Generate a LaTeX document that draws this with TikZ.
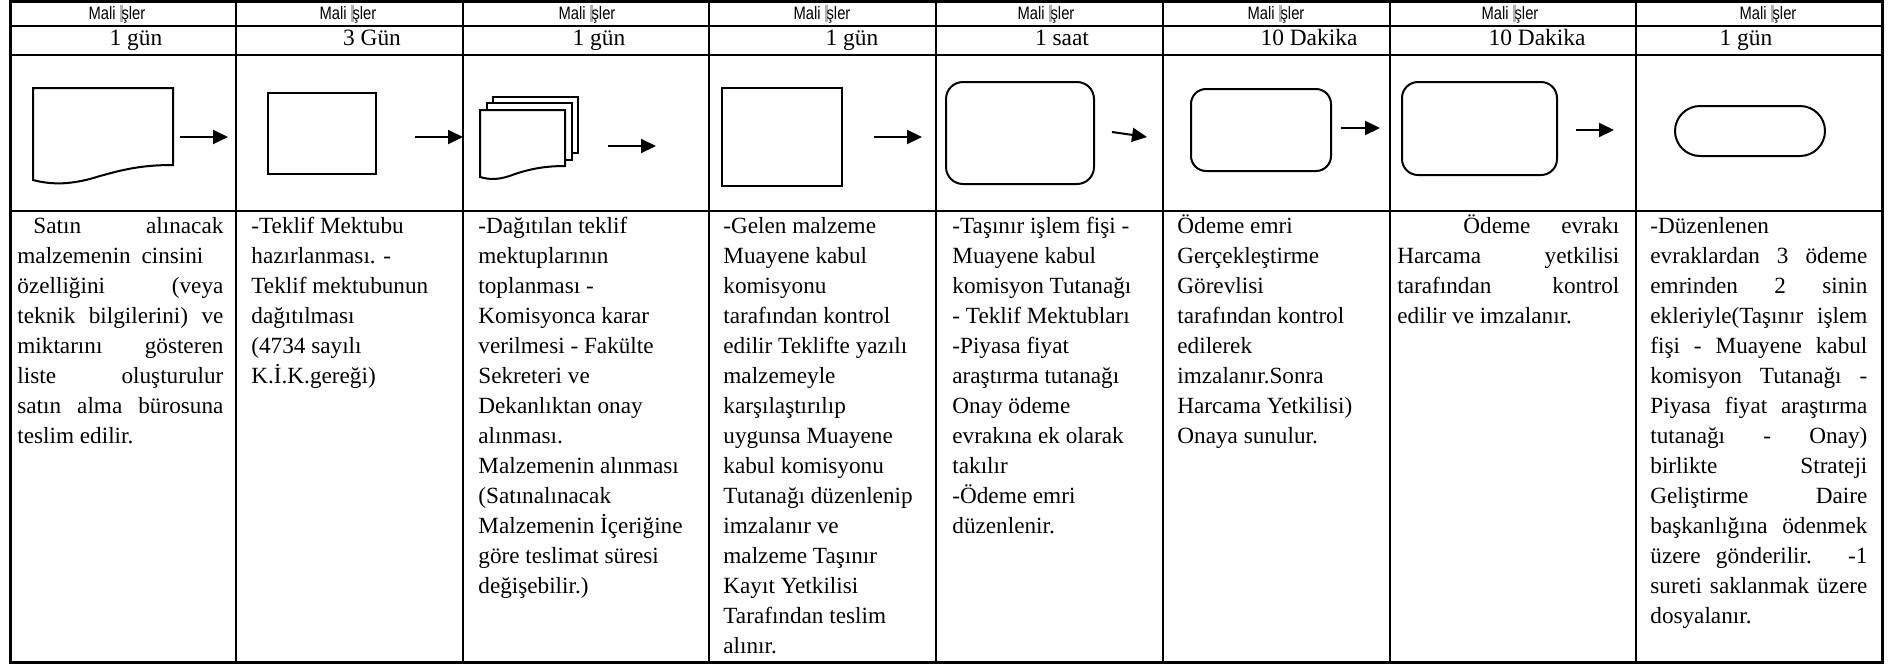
\documentclass[tikz,border=0pt]{standalone}
\usepackage{fontspec}
\setmainfont{Liberation Serif}
\newfontfamily\hdrfont[FakeStretch=0.82]{Liberation Sans}
\usetikzlibrary{arrows.meta}
\newcommand\jl[2]{{\spaceskip=0pt\xspaceskip=0pt\makebox[#1][s]{#2}}}
\newcommand\hdrtext{Mali {\color{black!30}\rule[-1.5pt]{1.4pt}{8.5pt}}\kern-0.5ptşler}
\begin{document}
\begin{tikzpicture}[x=0.5pt,y=-0.5pt,
  grid/.style={line width=1.2pt},
  outer/.style={line width=1.5pt},
  shp/.style={draw, line width=1pt, fill=white, inner sep=0pt},
  arr/.style={line width=1pt, -{Triangle[length=7.5pt,width=7pt]}},
  hdr/.style={font=\hdrfont\fontsize{9pt}{10pt}\selectfont, anchor=base, inner sep=0pt},
  dur/.style={font=\fontsize{11.7pt}{14pt}\selectfont, anchor=base, inner sep=0pt},
  body/.style={font=\fontsize{11.6pt}{15pt}\selectfont, anchor=north west, inner sep=0pt, text width=118pt, align=flush left},
]
\useasboundingbox (0,0) rectangle (1890,665);
% table grid
\draw[outer] (10,1.5) rectangle (1882,662);
\foreach \y in {26,55,211} \draw[grid] (10,\y) -- (1882,\y);
\foreach \x in {236,463,709,936,1163,1390,1636} \draw[grid] (\x,1.5) -- (\x,662);
% header row
\foreach \c/\x in {1/117,2/348,3/587,4/822,5/1046,6/1276,7/1510,8/1768}
  \node[hdr] (h\c) at (\x,19) {\hdrtext};
% durations
\node[dur] (d1) at (136,45) {1 gün};
\node[dur] (d2) at (372,45) {3 Gün};
\node[dur] (d3) at (599,45) {1 gün};
\node[dur] (d4) at (852,45) {1 gün};
\node[dur] (d5) at (1062,45) {1 saat};
\node[dur] (d6) at (1309,45) {10 Dakika};
\node[dur] (d7) at (1537,45) {10 Dakika};
\node[dur] (d8) at (1746,45) {1 gün};
% shapes
\draw[line width=1pt] (33,88) -- (173,88) -- (173,165)
  .. controls (140,165) and (122,170) .. (100,176)
  .. controls (72,185) and (52,185) .. (33,180) -- cycle;
\node[shp, minimum width=54pt, minimum height=40.5pt] (s2) at (322,133.5) {};
\draw[line width=1pt, fill=white] (493,97) rectangle (578,153);
\draw[line width=1pt, fill=white] (487,103) rectangle (572,160);
\draw[line width=1pt, fill=white] (480,110) -- (565,110) -- (565,166)
  .. controls (545,166) and (530,169) .. (515,174)
  .. controls (500,180) and (490,180) .. (480,177) -- cycle;
\node[shp, minimum width=60pt, minimum height=49pt] (s4) at (782,137) {};
\node[shp, rounded corners=8.5pt, minimum width=74pt, minimum height=51pt] (s5) at (1020,133) {};
\node[shp, rounded corners=7.5pt, minimum width=70pt, minimum height=41pt] (s6) at (1261,130) {};
\node[shp, rounded corners=8pt, minimum width=77.5pt, minimum height=46.5pt] (s7) at (1479.5,128.5) {};
\node[shp, rounded corners=12.5pt, minimum width=75pt, minimum height=25pt] (s8) at (1750,131) {};
% arrows
\coordinate (a1s) at (180,137); \coordinate (a1e) at (228,137);
\coordinate (a2s) at (415,137); \coordinate (a2e) at (463,137);
\coordinate (a3s) at (608,146); \coordinate (a3e) at (656,146);
\coordinate (a4s) at (874,137); \coordinate (a4e) at (922,137);
\coordinate (a5s) at (1112,132); \coordinate (a5e) at (1147,137);
\coordinate (a6s) at (1341,128); \coordinate (a6e) at (1380,128);
\coordinate (a7s) at (1576,130); \coordinate (a7e) at (1614,130);
\foreach \i in {1,...,7} \draw[arr] (a\i s) -- (a\i e);
% body texts
\node[body] (t1) at (17,212) {\strut\jl{103pt}{\hspace*{8pt}Satın alınacak}\\
\jl{93pt}{malzemenin cinsini}\\
\jl{103pt}{özelliğini (veya}\\
\jl{103pt}{teknik bilgilerini) ve}\\
\jl{103pt}{miktarını gösteren}\\
\jl{103pt}{liste oluşturulur}\\
\jl{103pt}{satın alma bürosuna}\\
teslim edilir.};
\node[body] (t2) at (251,212) {\strut -Teklif Mektubu\\ hazırlanması. -\\ Teklif mektubunun\\ dağıtılması\\ (4734 sayılı\\ K.İ.K.gereği)};
\node[body] (t3) at (478,212) {\strut -Dağıtılan teklif\\ mektuplarının\\ toplanması -\\ Komisyonca karar\\ verilmesi - Fakülte\\ Sekreteri ve\\ Dekanlıktan onay\\ alınması.\\ Malzemenin alınması\\ (Satınalınacak\\ Malzemenin İçeriğine\\ göre teslimat süresi\\ değişebilir.)};
\node[body] (t4) at (723,212) {\strut -Gelen malzeme\\ Muayene kabul\\ komisyonu\\ tarafından kontrol\\ edilir Teklifte yazılı\\ malzemeyle\\ karşılaştırılıp\\ uygunsa Muayene\\ kabul komisyonu\\ Tutanağı düzenlenip\\ imzalanır ve\\ malzeme Taşınır\\ Kayıt Yetkilisi\\ Tarafından teslim\\ alınır.};
\node[body] (t5) at (952,212) {\strut -Taşınır işlem fişi -\\ Muayene kabul\\ komisyon Tutanağı\\ - Teklif Mektubları\\ -Piyasa fiyat\\ araştırma tutanağı\\ Onay ödeme\\ evrakına ek olarak\\ takılır\\ -Ödeme emri\\ düzenlenir.};
\node[body] (t6) at (1177,212) {\strut Ödeme emri\\ Gerçekleştirme\\ Görevlisi\\ tarafından kontrol\\ edilerek\\ imzalanır.Sonra\\ Harcama Yetkilisi)\\ Onaya sunulur.};
\node[body] (t7) at (1397,212) {\strut\jl{111pt}{\hspace*{33pt}Ödeme evrakı}\\
\jl{111pt}{Harcama yetkilisi}\\
\jl{111pt}{tarafından kontrol}\\
edilir ve imzalanır.};
\node[body] (t8) at (1650,212) {\strut -Düzenlenen\\
\jl{108.5pt}{evraklardan 3 ödeme}\\
\jl{108.5pt}{emrinden 2 sinin}\\
\jl{108.5pt}{ekleriyle(Taşınır işlem}\\
\jl{108.5pt}{fişi - Muayene kabul}\\
\jl{108.5pt}{komisyon Tutanağı -}\\
\jl{108.5pt}{Piyasa fiyat araştırma}\\
\jl{108.5pt}{tutanağı - Onay)}\\
\jl{108.5pt}{birlikte Strateji}\\
\jl{108.5pt}{Geliştirme Daire}\\
\jl{108.5pt}{başkanlığına ödenmek}\\
\jl{108.5pt}{üzere gönderilir. -1}\\
\jl{108.5pt}{sureti saklanmak üzere}\\
dosyalanır.};
\end{tikzpicture}
\end{document}
